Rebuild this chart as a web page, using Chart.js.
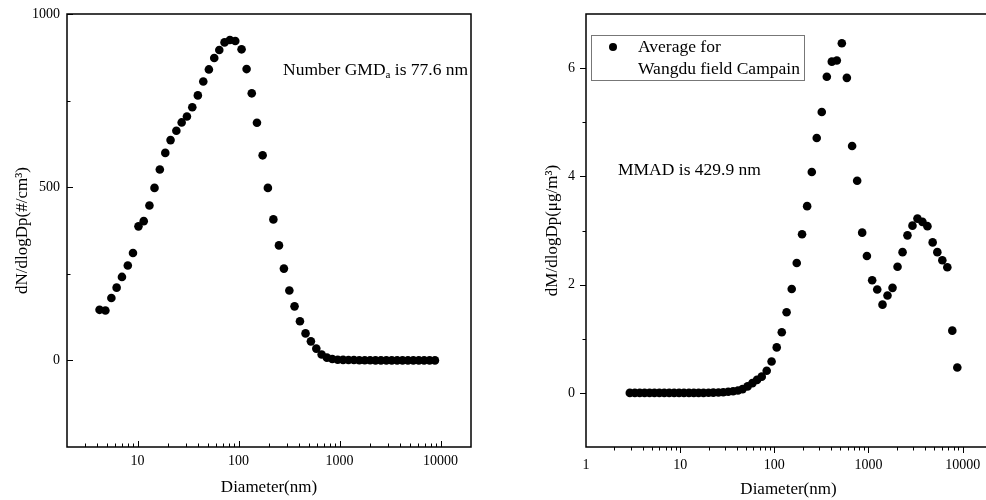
<!DOCTYPE html>
<html>
<head>
<meta charset="utf-8">
<script src="https://cdn.jsdelivr.net/npm/chart.js@4.4.0/dist/chart.umd.min.js"></script>
<style>
  body { margin: 0; background: #fff; overflow: hidden; width: 986px; height: 500px; position: relative; }
  .box { position: absolute; top: 0; height: 500px; }
  #numBox { left: 0; width: 490px; }
  #massBox { left: 490px; width: 510px; }
</style>
</head>
<body>
<div class="box" id="numBox"><canvas id="numChart" width="490" height="500"></canvas></div>
<div class="box" id="massBox"><canvas id="massChart" width="510" height="500"></canvas></div>
<script>
// number size distribution (left panel)
const numDiameter = [4.2, 4.8, 5.5, 6.2, 7.0, 8.0, 9.0, 10.2, 11.5, 13.1, 14.7, 16.6, 18.8, 21.2, 24.2, 27.3,
    30.8, 34.8, 39.5, 44.7, 50.8, 57.4, 64.4, 72.6, 82.0, 92.7, 107, 120, 135, 152, 173, 195, 221, 251,
    281, 318, 358, 405, 460, 520, 588, 664, 749, 847, 958, 1083, 1225, 1386, 1567, 1774, 2005, 2268,
    2566, 2903, 3283, 3715, 4198, 4750, 5370, 6080, 6870, 7780, 8790];
const numValues = [146, 144, 180, 210, 241, 274, 310, 387, 402, 447, 498, 551, 599, 636, 663, 687,
    704, 731, 765, 805, 840, 873, 896, 918, 925, 922, 898, 841, 771, 686, 592, 498, 407, 332,
    265, 202, 156, 113, 78, 55, 34, 17, 8, 4, 2, 1.5, 1, 1, 0.5, 0.5, 0.5, 0,
    0, 0, 0, 0, 0, 0, 0, 0, 0, 0, 0];

// mass size distribution (right panel)
const massDiameter = [2.92, 3.30, 3.72, 4.19, 4.73, 5.33, 6.01, 6.78, 7.65, 8.63, 9.73, 10.97, 12.4,
    13.96, 15.7, 17.7, 20.0, 22.5, 25.5, 28.7, 32.4, 36.5, 41.1, 46, 52, 58.5, 65.5, 73.5, 83, 93.5,
    106, 120, 135, 153, 173, 197, 223, 250, 282, 319, 361, 408, 461, 521, 589, 670, 758, 857,
    962, 1094, 1238, 1409, 1592, 1800, 2035, 2300, 2594, 2931, 3311, 3741, 4227, 4801, 5383,
    6083, 6873, 7764, 8773];
const massValues = [0, 0, 0, 0, 0, 0, 0, 0, 0, 0, 0, 0, 0,
    0, 0, 0, 0.003, 0.005, 0.008, 0.012, 0.02, 0.03, 0.045, 0.07, 0.12, 0.18, 0.24, 0.30, 0.41, 0.58,
    0.84, 1.12, 1.49, 1.92, 2.40, 2.93, 3.45, 4.08, 4.71, 5.19, 5.84, 6.12, 6.14, 6.46, 5.82, 4.56, 3.92, 2.96,
    2.53, 2.08, 1.91, 1.63, 1.80, 1.94, 2.33, 2.60, 2.91, 3.09, 3.22, 3.16, 3.08, 2.78, 2.60,
    2.45, 2.32, 1.15, 0.47];

const numXTicks = [10, 100, 1000, 10000];
const massXTicks = [1, 10, 100, 1000, 10000];
const numYTicks = [0, 500, 1000];
const massYTicks = [0, 2, 4, 6];

const FONT = "'Liberation Serif', 'Times New Roman', serif";

// box round the plot area plus Origin-style tick marks
const framePlugin = {
    id: 'frame',
    afterDraw(chart, args, opts) {
        const { ctx, chartArea: a, scales: { x, y } } = chart;
        ctx.save();
        ctx.strokeStyle = '#000';
        ctx.lineWidth = 1.5;
        ctx.strokeRect(a.left, a.top, a.right - a.left, a.bottom - a.top);

        ctx.lineWidth = 1;
        ctx.beginPath();
        const xd = opts.xInward ? -1 : 1;
        for (let p = Math.floor(Math.log10(x.min)); p <= Math.ceil(Math.log10(x.max)); p++) {
            for (let m = 1; m < 10; m++) {
                const v = m * Math.pow(10, p);
                if (v <= x.min || v >= x.max) continue;
                const px = Math.round(x.getPixelForValue(v)) + 0.5;
                const len = m === 1 ? 6 : 3.5;
                ctx.moveTo(px, a.bottom);
                ctx.lineTo(px, a.bottom + xd * len);
            }
        }
        const yd = opts.yInward ? 1 : -1;
        opts.yMajor.forEach(v => {
            const py = Math.round(y.getPixelForValue(v)) + 0.5;
            ctx.moveTo(a.left, py);
            ctx.lineTo(a.left + yd * 6, py);
        });
        opts.yMinor.forEach(v => {
            const py = Math.round(y.getPixelForValue(v)) + 0.5;
            ctx.moveTo(a.left, py);
            ctx.lineTo(a.left + yd * 3.5, py);
        });
        ctx.stroke();
        ctx.restore();
    }
};

// in-plot texts: the GMD / MMAD notes and the boxed legend
const notesPlugin = {
    id: 'notes',
    afterDraw(chart, args, opts) {
        const { ctx, chartArea: a } = chart;
        ctx.save();
        ctx.fillStyle = '#000';
        ctx.textBaseline = 'middle';
        (opts.notes || []).forEach(n => {
            let cx = a.left + n.dx;
            const cy = a.top + n.dy;
            n.parts.forEach(part => {
                ctx.font = `${part.sub ? 11 : 17.5}px ${FONT}`;
                ctx.fillText(part.text, cx, cy + (part.sub ? 5 : 0));
                cx += ctx.measureText(part.text).width;
            });
        });
        if (opts.legend) {
            const lg = opts.legend;
            const bx = a.left + lg.dx, by = a.top + lg.dy;
            ctx.strokeStyle = '#777';
            ctx.lineWidth = 1;
            ctx.strokeRect(bx + 0.5, by + 0.5, lg.w, lg.h);
            ctx.beginPath();
            ctx.arc(bx + 22, by + 12, 4, 0, Math.PI * 2);
            ctx.fill();
            ctx.font = `17.5px ${FONT}`;
            chart.data.datasets[0].label.split('\n').forEach((line, i) => {
                ctx.fillText(line, bx + 47, by + 12 + i * 22);
            });
        }
        ctx.restore();
    }
};

function makeChart(id, cfg) {
    const ctx = document.getElementById(id).getContext('2d');
    return new Chart(ctx, {
        type: 'scatter',
        data: {
            datasets: [{
                label: cfg.label,
                data: cfg.xs.map((d, i) => ({ x: d, y: cfg.ys[i] })),
                backgroundColor: '#000',
                borderWidth: 0,
                pointRadius: 4.3,
                pointHoverRadius: 4.3,
                showLine: false
            }]
        },
        options: {
            responsive: false,
            animation: false,
            layout: { padding: { top: 14, right: cfg.padRight, left: 0, bottom: 0 } },
            plugins: {
                legend: { display: false },
                tooltip: { enabled: false },
                frame: cfg.frame,
                notes: cfg.notes
            },
            scales: {
                x: {
                    type: 'logarithmic',
                    min: cfg.xMin,
                    max: cfg.xMax,
                    border: { display: false },
                    grid: { display: false, drawTicks: false },
                    afterBuildTicks: s => { s.ticks = cfg.xTicks.map(v => ({ value: v })); },
                    afterFit: s => { s.height = 53; },
                    ticks: {
                        autoSkip: false,
                        maxRotation: 0,
                        padding: cfg.xLabelPad,
                        color: '#000',
                        font: { family: FONT, size: 14 },
                        callback: v => String(v)
                    },
                    title: {
                        display: true,
                        text: 'Diameter(nm)',
                        color: '#000',
                        font: { family: FONT, size: 17 },
                        padding: { top: 0, bottom: cfg.xTitlePad }
                    }
                },
                y: {
                    min: cfg.yMin,
                    max: cfg.yMax,
                    border: { display: false },
                    grid: { display: false, drawTicks: false },
                    afterBuildTicks: s => { s.ticks = cfg.yTicks.map(v => ({ value: v })); },
                    afterFit: s => {
                        s.width = cfg.yWidth;
                        s.paddingTop = 0;
                        s.paddingBottom = 0;
                    },
                    ticks: {
                        padding: cfg.yLabelPad,
                        color: '#000',
                        font: { family: FONT, size: 14 },
                        callback: v => String(v)
                    },
                    title: {
                        display: true,
                        text: cfg.yTitle,
                        color: '#000',
                        font: { family: FONT, size: 17 },
                        padding: { top: cfg.yTitlePad, bottom: 0 }
                    }
                }
            }
        },
        plugins: [framePlugin, notesPlugin]
    });
}

makeChart('numChart', {
    label: 'Number',
    xs: numDiameter, ys: numValues,
    xMin: 2, xMax: 20000, yMin: -250, yMax: 1000,
    xTicks: numXTicks, yTicks: numYTicks,
    yWidth: 67, padRight: 19,
    xLabelPad: 6, xTitlePad: 2, yLabelPad: 7, yTitlePad: 12,
    yTitle: 'dN/dlogDp(#/cm³)',
    frame: { xInward: true, yInward: true, yMajor: numYTicks, yMinor: [250, 750] },
    notes: { notes: [{ dx: 216, dy: 56, parts: [{ text: 'Number GMD' }, { text: 'a', sub: true }, { text: ' is 77.6 nm' }] }] }
});

makeChart('massChart', {
    label: 'Average for\nWangdu field Campain',
    xs: massDiameter, ys: massValues,
    xMin: 1, xMax: 20000, yMin: -1, yMax: 7,
    xTicks: massXTicks, yTicks: massYTicks,
    yWidth: 96, padRight: 9,
    xLabelPad: 10, xTitlePad: 0, yLabelPad: 11, yTitlePad: 52,
    yTitle: 'dM/dlogDp(μg/m³)',
    frame: { xInward: false, yInward: false, yMajor: massYTicks, yMinor: [1, 3, 5] },
    notes: {
        notes: [{ dx: 32, dy: 156, parts: [{ text: 'MMAD is 429.9 nm' }] }],
        legend: { dx: 5, dy: 21, w: 213, h: 45 }
    }
});
</script>
</body>
</html>
